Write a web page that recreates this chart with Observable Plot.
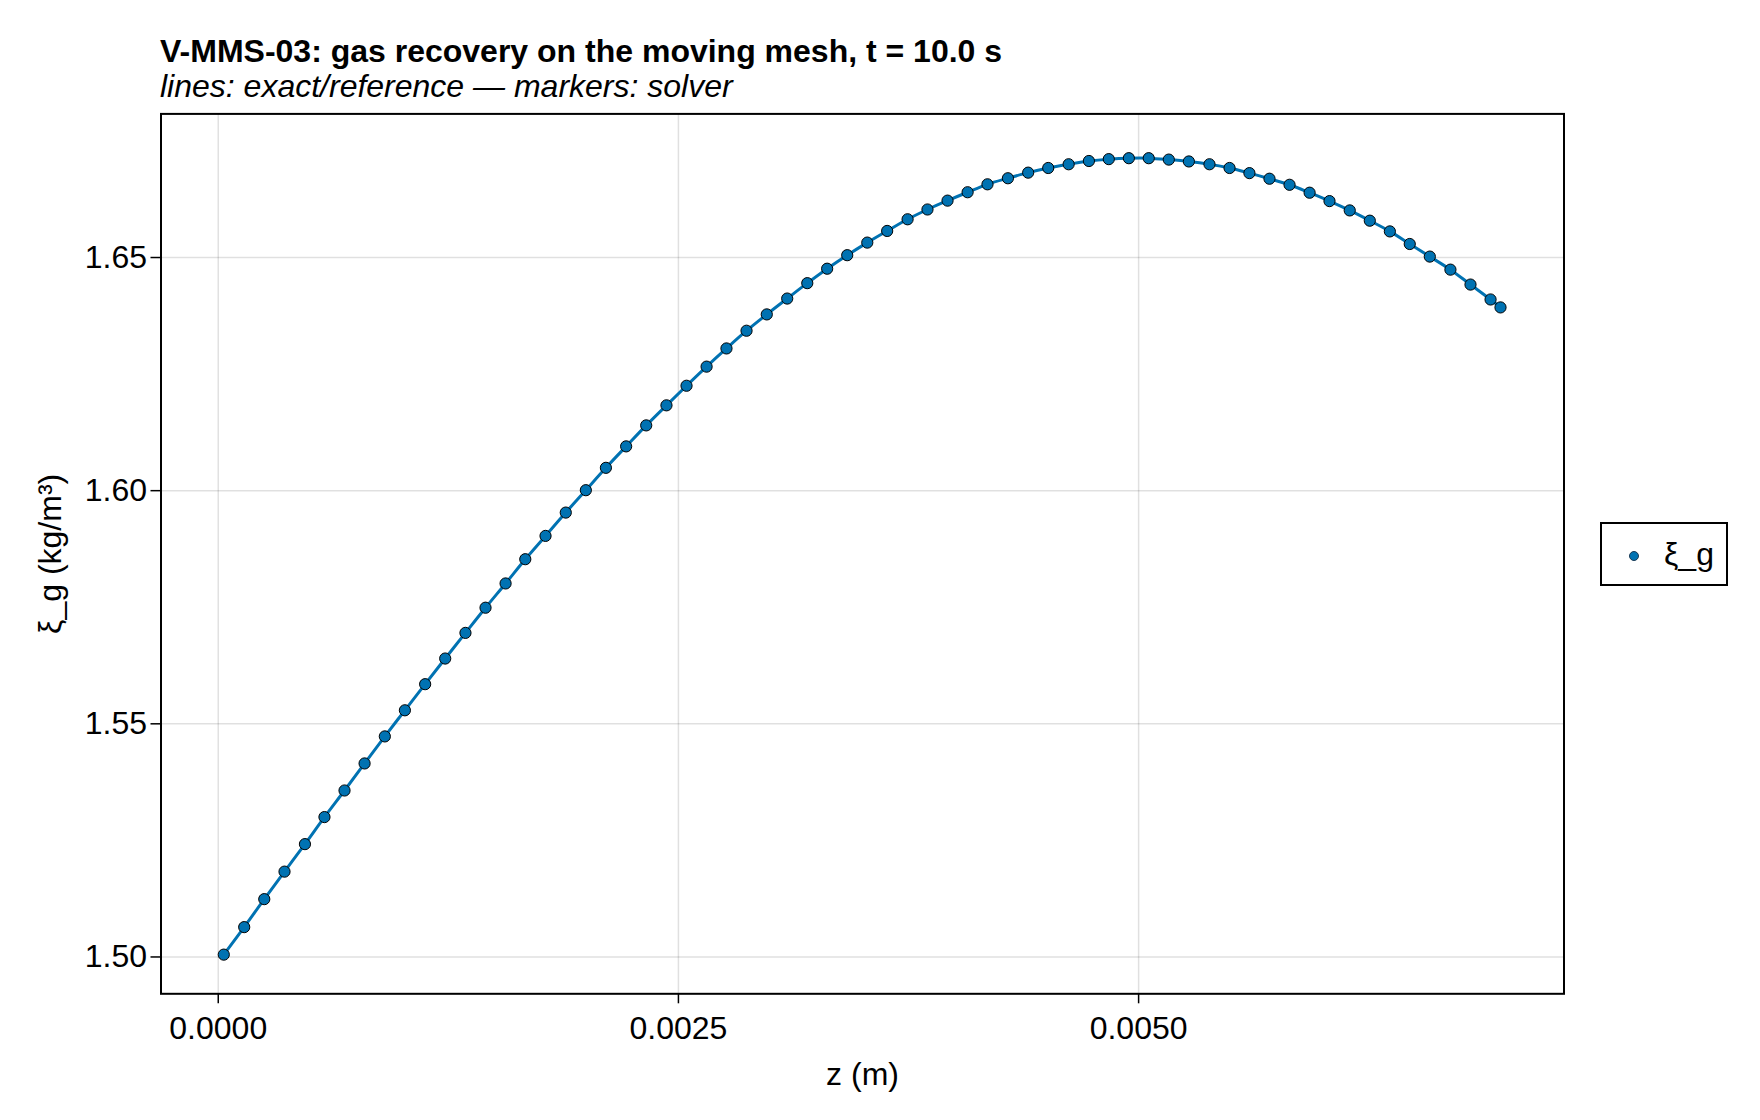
<!DOCTYPE html>
<html>
<head>
<meta charset="utf-8">
<script src="https://cdn.jsdelivr.net/npm/d3@7"></script>
<script src="https://cdn.jsdelivr.net/npm/@observablehq/plot@0.6"></script>
<style>
  html, body { margin: 0; padding: 0; background: #fff; }
  #wrap { position: relative; width: 1760px; height: 1120px; font-family: "Liberation Sans", Arial, sans-serif; color: #000; overflow: hidden; }
  #title { position: absolute; left: 160px; top: 35px; font-size: 32px; line-height: 1; font-weight: bold; white-space: nowrap; }
  #subtitle { position: absolute; left: 160px; top: 70px; font-size: 32px; line-height: 1; font-style: italic; white-space: nowrap; }
  #chart { position: absolute; left: 0; top: 100px; }
  #legend { position: absolute; left: 1600px; top: 522px; width: 128px; height: 64px; box-sizing: border-box; border: 2px solid #000; background: #fff; }
  #legend .sw { position: absolute; left: 26.5px; top: 27px; width: 10px; height: 10px; border-radius: 50%; background: #0072B2; box-sizing: border-box; border: 1px solid #1a3a55; }
  #legend .lb { position: absolute; left: 62px; top: 14px; font-size: 32px; line-height: 1; white-space: nowrap; }
</style>
</head>
<body>
<div id="wrap">
  <div id="title"></div>
  <div id="subtitle"></div>
  <div id="chart"></div>
  <div id="legend"><span class="sw"></span><span class="lb"></span></div>
</div>
<script>
// ---- text ----
const titleText = "V-MMS-03: gas recovery on the moving mesh, t = 10.0 s";
const subtitleText = "lines: exact/reference \u2014 markers: solver";
const xLabel = "z (m)";
const yLabel = "\u03be_g (kg/m\u00b3)";
const seriesName = "\u03be_g";

// ---- ticks ----
const xTicks = [0, 0.0025, 0.005];
const xTickLabels = ["0.0000", "0.0025", "0.0050"];
const yTicks = [1.50, 1.55, 1.60, 1.65];
const yTickLabels = ["1.50", "1.55", "1.60", "1.65"];
const xDomain = [-0.000311, 0.007311];
const yDomain = [1.4921, 1.6808];

// ---- data ----
const zPositions = [
  0.000030, 0.000141, 0.000250, 0.000360, 0.000471, 0.000577, 0.000686, 0.000795, 0.000905, 0.001014,
  0.001124, 0.001233, 0.001343, 0.001452, 0.001561, 0.001668, 0.001778, 0.001888, 0.001997, 0.002106,
  0.002216, 0.002325, 0.002435, 0.002544, 0.002653, 0.002761, 0.002870, 0.002980, 0.003091, 0.003200,
  0.003308, 0.003417, 0.003526, 0.003634, 0.003745, 0.003853, 0.003962, 0.004071, 0.004179, 0.004290,
  0.004400, 0.004509, 0.004620, 0.004730, 0.004838, 0.004947, 0.005055, 0.005164, 0.005273, 0.005385,
  0.005494, 0.005602, 0.005711, 0.005820, 0.005929, 0.006037, 0.006147, 0.006256, 0.006365, 0.006473,
  0.006582, 0.006694, 0.006803, 0.006912, 0.006966
];
const xiSolver = [
  1.5005, 1.5064, 1.5124, 1.5183, 1.5242, 1.5300, 1.5357, 1.5415, 1.5473, 1.5529,
  1.5585, 1.5640, 1.5695, 1.5749, 1.5801, 1.5853, 1.5903, 1.5953, 1.6001, 1.6049,
  1.6095, 1.6140, 1.6183, 1.6225, 1.6266, 1.6305, 1.6343, 1.6378, 1.6412, 1.6445,
  1.6476, 1.6505, 1.6532, 1.6557, 1.6582, 1.6603, 1.6622, 1.6640, 1.6657, 1.6670,
  1.6682, 1.6692, 1.6700, 1.6707, 1.6711, 1.6713, 1.6713, 1.6710, 1.6706, 1.6700,
  1.6692, 1.6681, 1.6669, 1.6656, 1.6639, 1.6621, 1.6601, 1.6579, 1.6556, 1.6529,
  1.6502, 1.6474, 1.6442, 1.6410, 1.6393
];

const data = zPositions.map((z, i) => ({z, xi: xiSolver[i]}));
const blue = "#0072B2";

document.getElementById("title").textContent = titleText;
document.getElementById("subtitle").textContent = subtitleText;
document.querySelector("#legend .lb").textContent = seriesName;

const chart = Plot.plot({
  width: 1760,
  height: 1020,
  marginLeft: 160.5,
  marginRight: 196.5,
  marginTop: 13.4,
  marginBottom: 126.7,
  style: {fontFamily: '"Liberation Sans", Arial, sans-serif', fontSize: "32px", color: "#000", background: "#fff", overflow: "visible"},
  x: {domain: xDomain},
  y: {domain: yDomain},
  marks: [
    Plot.gridX(xTicks, {stroke: "#000", strokeOpacity: 0.12, strokeWidth: 1.5}),
    Plot.gridY(yTicks, {stroke: "#000", strokeOpacity: 0.12, strokeWidth: 1.5}),
    Plot.axisX({ticks: xTicks, tickFormat: d => xTickLabels[xTicks.indexOf(d)], tickSize: 10, tickPadding: 12, strokeWidth: 1.5, label: null, fontSize: 32}),
    Plot.axisY({ticks: yTicks, tickFormat: d => yTickLabels[yTicks.indexOf(d)], tickSize: 10, tickPadding: 4, strokeWidth: 1.5, label: null, fontSize: 32}),
    Plot.line(data, {x: "z", y: "xi", stroke: blue, strokeWidth: 3, curve: "catmull-rom"}),
    Plot.dot(data, {x: "z", y: "xi", r: 5.6, fill: blue, stroke: "#000", strokeWidth: 1}),
    Plot.frame({stroke: "#000", strokeWidth: 2}),
    Plot.text([xLabel], {text: d => d, frameAnchor: "bottom", dy: 81, lineAnchor: "middle", fontSize: 32}),
    Plot.text([yLabel], {text: d => d, frameAnchor: "left", dx: -110, rotate: -90, lineAnchor: "middle", textAnchor: "middle", fontSize: 32})
  ]
});
document.getElementById("chart").appendChild(chart);
</script>
</body>
</html>
